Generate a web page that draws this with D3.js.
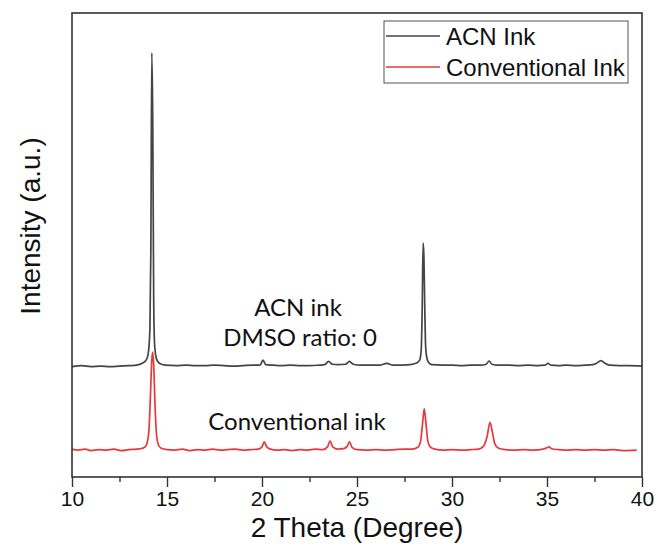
<!DOCTYPE html>
<html>

<head>
    <meta charset="utf-8" />
    <title>XRD ACN vs Conventional Ink</title>
    <script src="https://d3js.org/d3.v7.min.js"></script>
    <style>
        body {
            margin: 0;
            background: white;
        }

        .note {
            font: 24px Lato, 'Open Sans', sans-serif;
            fill: #111;
        }
    </style>
</head>

<body>
    <svg id='chart'></svg>

    <script>

        // 2 theta / intensity pairs (arbitrary units)
        var acnTheta = [10.0, 10.5, 11.0, 11.5, 12.0, 12.5, 13.0, 13.4, 13.7, 13.9, 14.0, 14.1, 14.15, 14.2, 14.25, 14.3, 14.35, 14.45, 14.6, 14.9,
            15.5, 16.0, 16.5, 17.0, 17.5, 18.0, 18.5, 19.0, 19.5, 19.9, 20.05, 20.2, 20.6, 21.0, 21.5, 22.0, 22.5, 23.0, 23.3, 23.5,
            23.7, 24.0, 24.4, 24.6, 24.8, 25.2, 25.7, 26.2, 26.56, 26.9, 27.4, 27.8, 28.1, 28.3, 28.38, 28.43, 28.48, 28.52, 28.56, 28.6,
            28.65, 28.75, 28.95, 29.5, 30.0, 30.5, 31.0, 31.5, 31.8, 31.95, 32.1, 32.4, 33.0, 33.5, 34.0, 34.5, 34.9, 35.05, 35.2, 35.6,
            36.0, 36.5, 37.0, 37.4, 37.6, 37.84, 38.05, 38.3, 38.8, 39.3, 40.0]
        var acnInt = [238, 240, 238, 239, 238, 239, 240, 241, 245, 252, 263, 317, 489, 914, 769, 381, 284, 254, 245, 241,
            240, 241, 240, 240, 241, 240, 239, 240, 241, 241, 252, 242, 241, 240, 241, 240, 240, 241, 242, 249,
            243, 242, 243, 249, 243, 241, 241, 241, 245, 241, 241, 242, 245, 252, 274, 360, 504, 478, 381, 295,
            263, 248, 242, 241, 241, 240, 241, 241, 243, 250, 243, 241, 241, 240, 241, 240, 241, 245, 241, 240,
            241, 240, 241, 242, 245, 251, 245, 241, 240, 240, 239]

        var convTheta = [10.0, 10.3, 10.7, 11.0, 11.4, 11.8, 12.2, 12.6, 13.0, 13.4, 13.7, 13.85, 13.95, 14.05, 14.12, 14.2, 14.25, 14.3, 14.38, 14.45,
            14.55, 14.7, 15.0, 15.4, 15.8, 16.2, 16.6, 17.0, 17.4, 17.8, 18.2, 18.6, 19.0, 19.4, 19.8, 20.0, 20.12, 20.25, 20.45, 20.8,
            21.2, 21.6, 22.0, 22.4, 22.8, 23.2, 23.45, 23.58, 23.72, 24.0, 24.3, 24.48, 24.6, 24.74, 25.0, 25.5, 26.0, 26.5, 27.0, 27.5,
            27.9, 28.2, 28.35, 28.45, 28.54, 28.62, 28.72, 28.85, 29.1, 29.5, 30.0, 30.5, 31.0, 31.4, 31.65, 31.85, 32.0, 32.12, 32.25, 32.45,
            32.8, 33.3, 33.8, 34.3, 34.8, 35.0, 35.1, 35.25, 35.6, 36.0, 36.5, 37.0, 37.5, 38.0, 38.5, 39.0, 39.72]
        var convInt = [60, 58, 60, 57, 59, 58, 60, 57, 59, 60, 62, 65, 73, 101, 166, 252, 269, 241, 144, 91,
            69, 62, 59, 58, 60, 57, 59, 58, 60, 58, 59, 60, 58, 59, 60, 65, 76, 65, 60, 58,
            59, 57, 59, 58, 60, 59, 65, 78, 65, 60, 61, 66, 76, 64, 59, 58, 59, 58, 59, 60,
            60, 64, 78, 115, 147, 120, 80, 65, 60, 58, 59, 58, 59, 60, 66, 88, 118, 98, 72, 62,
            59, 58, 59, 58, 60, 63, 65, 61, 59, 58, 59, 58, 59, 58, 59, 57, 58]

        var xTicks = [10, 15, 20, 25, 30, 35, 40]
        var minorTicks = [12.5, 17.5, 22.5, 27.5, 32.5, 37.5]
        var seriesNames = ['ACN Ink', 'Conventional Ink']
        var seriesColors = ['#444444', '#e8383d']

        var W = 655, H = 550
        // plot box (don't call these top/left, window.top is read only)
        var pLeft = 72, pRight = 642, pTop = 13, pBottom = 477
        var axisFont = "'Liberation Sans', Arial, sans-serif"

        var svg = d3.select('#chart')
            .attr('width', W)
            .attr('height', H)

        var x = d3.scaleLinear().domain([10, 40]).range([pLeft, pRight])
        var y = d3.scaleLinear().domain([0, 1000]).range([pBottom, pTop])

        var line = d3.line()
            .x(d => x(d[0]))
            .y(d => y(d[1]))
            .curve(d3.curveMonotoneX)

        var acn = acnTheta.map((t, i) => [t, acnInt[i]])
        var conv = convTheta.map((t, i) => [t, convInt[i]])

        svg.append('path')
            .datum(acn)
            .attr('d', line)
            .attr('fill', 'none')
            .attr('stroke', seriesColors[0])
            .attr('stroke-width', 1.7)

        svg.append('path')
            .datum(conv)
            .attr('d', line)
            .attr('fill', 'none')
            .attr('stroke', seriesColors[1])
            .attr('stroke-width', 1.7)

        // frame
        svg.append('rect')
            .attr('x', pLeft)
            .attr('y', pTop)
            .attr('width', pRight - pLeft)
            .attr('height', pBottom - pTop)
            .attr('fill', 'none')
            .attr('stroke', '#333')
            .attr('stroke-width', 1.6)

        // bottom axis, major + minor ticks pointing out
        var xAxis = svg.append('g')
            .attr('transform', `translate(0,${pBottom})`)
            .call(d3.axisBottom(x).tickValues(xTicks).tickSize(10).tickPadding(4).tickFormat(d3.format('d')))
        xAxis.select('.domain').remove()
        xAxis.selectAll('line').attr('stroke', '#333').attr('stroke-width', 1.4)
        xAxis.selectAll('text')
            .style('font', `21px ${axisFont}`)
            .attr('fill', '#111')

        var xMinor = svg.append('g')
            .attr('transform', `translate(0,${pBottom})`)
            .call(d3.axisBottom(x).tickValues(minorTicks).tickSize(5).tickFormat(''))
        xMinor.select('.domain').remove()
        xMinor.selectAll('line').attr('stroke', '#333').attr('stroke-width', 1.4)

        svg.append('text')
            .attr('x', (pLeft + pRight) / 2)
            .attr('y', 537)
            .attr('text-anchor', 'middle')
            .style('font', `28px ${axisFont}`)
            .attr('fill', '#111')
            .text('2 Theta (Degree)')

        svg.append('text')
            .attr('transform', `translate(40,226) rotate(-90)`)
            .attr('text-anchor', 'middle')
            .style('font', `28px ${axisFont}`)
            .attr('fill', '#111')
            .text('Intensity (a.u.)')

        // annotations
        svg.append('text').attr('class', 'note').attr('x', 298).attr('y', 316).attr('text-anchor', 'middle').text('ACN ink')
        svg.append('text').attr('class', 'note').attr('x', 300).attr('y', 346).attr('text-anchor', 'middle').text('DMSO ratio: 0')
        svg.append('text').attr('class', 'note').attr('x', 297).attr('y', 430).attr('text-anchor', 'middle').text('Conventional ink')

        // legend
        var lg = svg.append('g')
        lg.append('rect')
            .attr('x', 384)
            .attr('y', 21)
            .attr('width', 244)
            .attr('height', 62)
            .attr('fill', 'white')
            .attr('stroke', '#555')
            .attr('stroke-width', 1)

        seriesNames.forEach(function (name, i) {
            var ly = 36 + i * 31
            lg.append('line')
                .attr('x1', 386)
                .attr('x2', 440)
                .attr('y1', ly)
                .attr('y2', ly)
                .attr('stroke', seriesColors[i])
                .attr('stroke-width', 1.6)
            lg.append('text')
                .attr('x', 446)
                .attr('y', ly + 8.5)
                .style('font', `24px ${axisFont}`)
                .attr('fill', '#111')
                .text(name)
        })

    </script>
</body>

</html>
